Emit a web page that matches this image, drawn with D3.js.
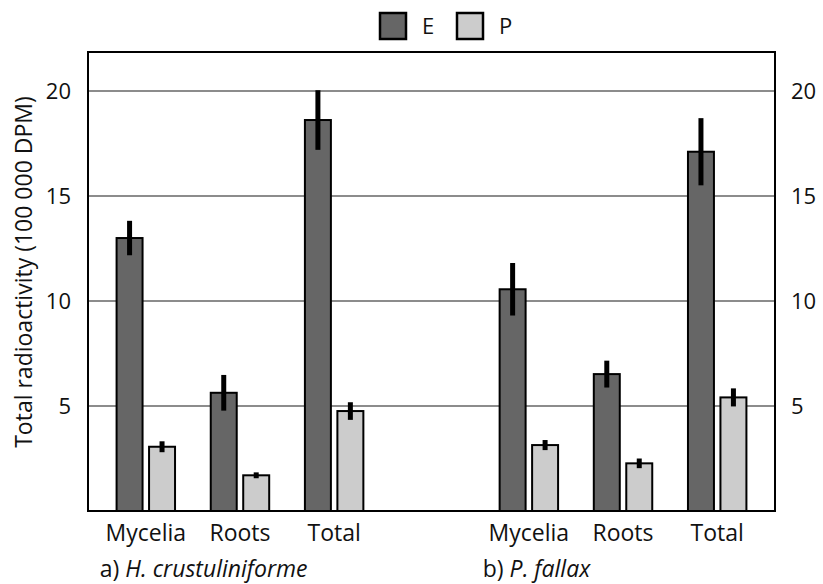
<!DOCTYPE html>
<html>
<head>
<meta charset="utf-8">
<script src="https://cdn.jsdelivr.net/npm/d3@7"></script>
<style>
  body { margin: 0; background: #fff; }
  svg { display: block; font-family: "Open Sans", "Noto Sans", sans-serif; }
</style>
</head>
<body>
<svg id="chart" width="823" height="584"></svg>
<script>
// Species groups and the compartments measured in each
const groups = ["a", "b"];
const groupLabels = { a: ["a) ", "H. crustuliniforme"], b: ["b) ", "P. fallax"] };
const categories = ["Mycelia", "Roots", "Total"];
const seriesNames = ["E", "P"];

// Mean total radioactivity (100 000 DPM), order: Mycelia, Roots, Total
const valuesE_a = [13.0, 5.63, 18.62];
const valuesP_a = [3.06, 1.70, 4.76];
const valuesE_b = [10.56, 6.52, 17.11];
const valuesP_b = [3.14, 2.27, 5.41];

// Error bar half-widths
const errE_a = [0.82, 0.85, 1.42];
const errP_a = [0.26, 0.14, 0.42];
const errE_b = [1.25, 0.64, 1.6];
const errP_b = [0.24, 0.23, 0.43];

const yTicks = [5, 10, 15, 20];

const rows = [];
const table = { a: { E: [valuesE_a, errE_a], P: [valuesP_a, errP_a] },
                b: { E: [valuesE_b, errE_b], P: [valuesP_b, errP_b] } };
groups.forEach(g => categories.forEach((c, i) => seriesNames.forEach(s => {
  rows.push({ group: g, category: c, series: s, value: table[g][s][0][i], err: table[g][s][1][i] });
})));

const colors = { E: "#666666", P: "#cccccc" };
const fontSize = 22;
const labelSize = 23;

const svg = d3.select("#chart");
const plotL = 88, plotR = 775, plotT = 52, plotB = 511;

const x0 = d3.scaleBand().domain(groups).range([plotL, plotR])
  .paddingInner(0.2625).paddingOuter(0.028);
const x1 = d3.scaleBand().domain(categories).range([0, x0.bandwidth()]).padding(0);
const x2 = d3.scaleBand().domain(seriesNames).range([0, x1.bandwidth()])
  .paddingInner(0.2).paddingOuter(0.55);
const y = d3.scaleLinear().domain([0, 21.86]).range([plotB, plotT]);

// horizontal gridlines
svg.append("g").selectAll("line").data(yTicks).join("line")
  .attr("x1", plotL).attr("x2", plotR)
  .attr("y1", d => y(d)).attr("y2", d => y(d))
  .attr("stroke", "#8c8c8c").attr("stroke-width", 2);

// left and right tick labels
const leftAxis = svg.append("g").attr("transform", `translate(${plotL},0)`)
  .call(d3.axisLeft(y).tickValues(yTicks).tickSize(0).tickPadding(17));
const rightAxis = svg.append("g").attr("transform", `translate(${plotR},0)`)
  .call(d3.axisRight(y).tickValues(yTicks).tickSize(0).tickPadding(16));
[leftAxis, rightAxis].forEach(a => {
  a.select(".domain").remove();
  a.selectAll("text").attr("font-size", fontSize).attr("fill", "#111")
    .attr("font-family", "'Open Sans', sans-serif");
});

// bars
svg.append("g").selectAll("rect").data(rows).join("rect")
  .attr("x", d => x0(d.group) + x1(d.category) + x2(d.series))
  .attr("width", x2.bandwidth())
  .attr("y", d => y(d.value))
  .attr("height", d => y(0) - y(d.value))
  .attr("fill", d => colors[d.series])
  .attr("stroke", "#000").attr("stroke-width", 2);

// error bars
svg.append("g").selectAll("line").data(rows).join("line")
  .attr("x1", d => x0(d.group) + x1(d.category) + x2(d.series) + x2.bandwidth() / 2)
  .attr("x2", d => x0(d.group) + x1(d.category) + x2(d.series) + x2.bandwidth() / 2)
  .attr("y1", d => y(d.value + d.err))
  .attr("y2", d => y(d.value - d.err))
  .attr("stroke", "#000").attr("stroke-width", 5);

// frame
svg.append("rect").attr("x", plotL).attr("y", plotT)
  .attr("width", plotR - plotL).attr("height", plotB - plotT)
  .attr("fill", "none").attr("stroke", "#000").attr("stroke-width", 2);

// category labels and group captions
groups.forEach(g => {
  svg.append("g").selectAll("text").data(categories).join("text")
    .attr("x", c => x0(g) + x1(c) + x1.bandwidth() / 2)
    .attr("y", 541)
    .attr("text-anchor", "middle")
    .attr("font-size", labelSize).attr("fill", "#111")
    .text(c => c);
  const t = svg.append("text")
    .attr("x", x0(g) + x1(categories[0]) + 1)
    .attr("y", 577)
    .attr("font-size", labelSize).attr("fill", "#111");
  t.append("tspan").text(groupLabels[g][0]);
  t.append("tspan").attr("font-style", "italic").text(groupLabels[g][1]);
});

// y axis title
svg.append("text")
  .attr("transform", "translate(32, 272) rotate(-90)")
  .attr("text-anchor", "middle")
  .attr("font-size", 23).attr("fill", "#111")
  .text("Total radioactivity (100 000 DPM)");

// legend
const legend = svg.append("g");
const legendX = d3.scalePoint().domain(seriesNames).range([380, 457]);
seriesNames.forEach(s => {
  legend.append("rect").attr("x", legendX(s)).attr("y", 13)
    .attr("width", 26).attr("height", 26)
    .attr("fill", colors[s]).attr("stroke", "#000").attr("stroke-width", 2.5);
  legend.append("text").attr("x", legendX(s) + 42).attr("y", 34)
    .attr("font-size", fontSize).attr("fill", "#111").text(s);
});
</script>
</body>
</html>
